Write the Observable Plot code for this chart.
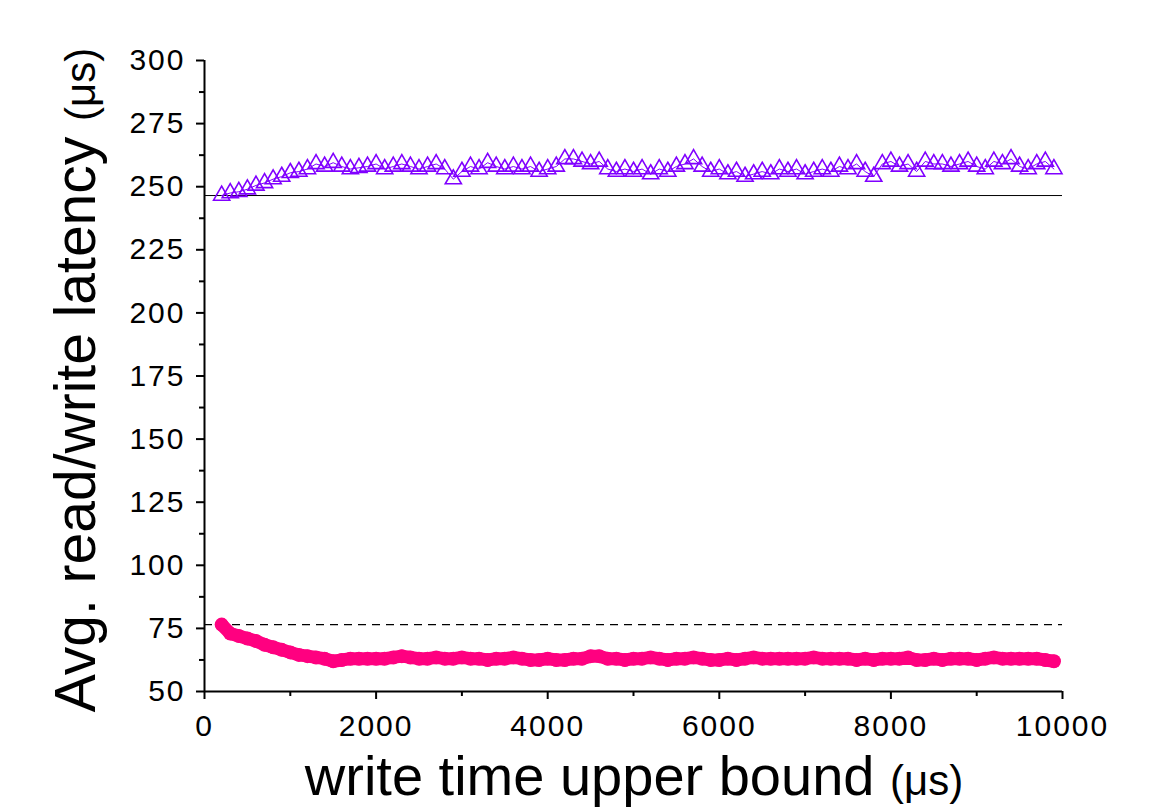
<!DOCTYPE html>
<html><head><meta charset="utf-8">
<script src="https://cdn.jsdelivr.net/npm/d3@7"></script>
<script src="https://cdn.jsdelivr.net/npm/@observablehq/plot@0.6"></script>
<style>body{margin:0;background:#fff;}</style>
</head><body><div id="chart"></div>
<script>
const writeBound = [200,300,400,500,600,700,800,900,1000,1100,1200,1300,1400,1500,1600,1700,1800,1900,2000,2100,2200,2300,2400,2500,2600,2700,2800,2900,3000,3100,3200,3300,3400,3500,3600,3700,3800,3900,4000,4100,4200,4300,4400,4500,4600,4700,4800,4900,5000,5100,5200,5300,5400,5500,5600,5700,5800,5900,6000,6100,6200,6300,6400,6500,6600,6700,6800,6900,7000,7100,7200,7300,7400,7500,7600,7700,7800,7900,8000,8100,8200,8300,8400,8500,8600,8700,8800,8900,9000,9100,9200,9300,9400,9500,9600,9700,9800,9900];
const writeLatency = [246.5,247.5,248,249,250.5,251.5,253,254,255.5,256,257,259,258,259.5,258,257,257.5,258,259,257,258,259,258,257,258,259,257,253,256,258,257,259.5,258,257,258,257,258,256,257,258,261,261,260,259,260,257,256,257,256,257,255,257,256,258,259,261,258,256,257,255,256,254,255,256,255,257,256,257,255,256,257,256,258,257,259,256,254,259,260,258,259,256,260,259,259,258,259,260,258,257,260,259,261,258,257,259,260,257];
const readLatency = [76.5,73,72,71,70,68.5,67.5,66.5,65.5,64.5,64,63.5,63,62,62.5,63,63,63,63,63,63.5,64,63.5,63,63,63.5,63,63,63.5,63,63,62.5,63,63,63.5,63,62.5,62.5,63,62.5,62.5,63,63,64,64,63,63,62.5,63,63,63.5,63,62.5,63,63,63.5,63,62.5,62.5,63,62.5,63,63.5,63,63,63,63,63,63,63.5,63,63,63,63,62.5,63,62.5,63,63,63,63.5,62.5,62.5,63,62.5,63,63,63,62.5,63,63.5,63,63,63,63,63,62.5,62];
const writeBaseline = 246.5;
const readBaseline = 76.5;
const yMajor = [50,75,100,125,150,175,200,225,250,275,300];
const yMinor = [62.5,87.5,112.5,137.5,162.5,187.5,212.5,237.5,262.5,287.5];
const xMajor = [0,2000,4000,6000,8000,10000];
const xMinor = [1000,3000,5000,7000,9000];

const writeData = writeBound.map((x, i) => ({x, y: writeLatency[i]}));
const readData = writeBound.map((x, i) => ({x, y: readLatency[i]}));

const purple = "#8000ff", pink = "#ff0080";
const ff = "'Liberation Sans', Arial, sans-serif";

const plot = Plot.plot({
  width: 1173, height: 810,
  marginLeft: 204, marginRight: 111, marginTop: 60, marginBottom: 119,
  style: {fontFamily: ff, fontSize: "30px", background: "#fff", color: "#000"},
  x: {domain: [0, 10000]},
  y: {domain: [50, 300]},
  marks: [
    Plot.ruleY([writeBaseline], {x1: 0, x2: 10000, stroke: "#000", strokeWidth: 1}),
    Plot.ruleY([readBaseline], {x1: 0, x2: 10000, stroke: "#000", strokeWidth: 1.2, strokeDasharray: "8,6"}),
    Plot.line(writeData, {x: "x", y: "y", stroke: purple, strokeWidth: 1}),
    Plot.dot(writeData, {x: "x", y: "y", symbol: "triangle", r: 6, stroke: purple, strokeWidth: 1.6, fill: "none"}),
    Plot.line(readData, {x: "x", y: "y", stroke: pink, strokeWidth: 13}),
    Plot.dot(readData, {x: "x", y: "y", r: 7, fill: pink}),
    Plot.axisY({ticks: yMajor, tickSize: 8, tickPadding: 11, strokeWidth: 2, label: null, fontSize: 30}),
    Plot.axisY({ticks: yMinor, tickSize: 5, text: null, strokeWidth: 2, label: null}),
    Plot.axisX({ticks: xMajor, tickSize: 8, tickPadding: 15, strokeWidth: 2, label: null, fontSize: 30, tickFormat: d => String(d)}),
    Plot.axisX({ticks: xMinor, tickSize: 5, text: null, strokeWidth: 2, label: null}),
    Plot.ruleX([0], {y1: 50, y2: 300, stroke: "#000", strokeWidth: 2}),
    Plot.ruleY([50], {x1: 0, x2: 10000, stroke: "#000", strokeWidth: 2})
  ]
});
document.getElementById("chart").appendChild(plot);

const svg = d3.select(plot);
svg.selectAll("g[aria-label='y-axis tick label'] text, g[aria-label='x-axis tick label'] text")
  .attr("font-size", 30).style("letter-spacing", "2px");

const yl = svg.append("text")
  .attr("transform", "translate(95,380) rotate(-90)")
  .attr("text-anchor", "middle")
  .attr("font-family", ff).attr("font-size", 57).attr("fill", "#000");
yl.append("tspan").text("Avg. read/write latency ");
yl.append("tspan").attr("font-size", 42).text("(μs)");

const xl = svg.append("text")
  .attr("x", 634).attr("y", 795)
  .attr("text-anchor", "middle")
  .attr("font-family", ff).attr("font-size", 56).attr("fill", "#000");
xl.append("tspan").text("write time upper bound ");
xl.append("tspan").attr("font-size", 42).text("(μs)");
</script>
</body></html>
